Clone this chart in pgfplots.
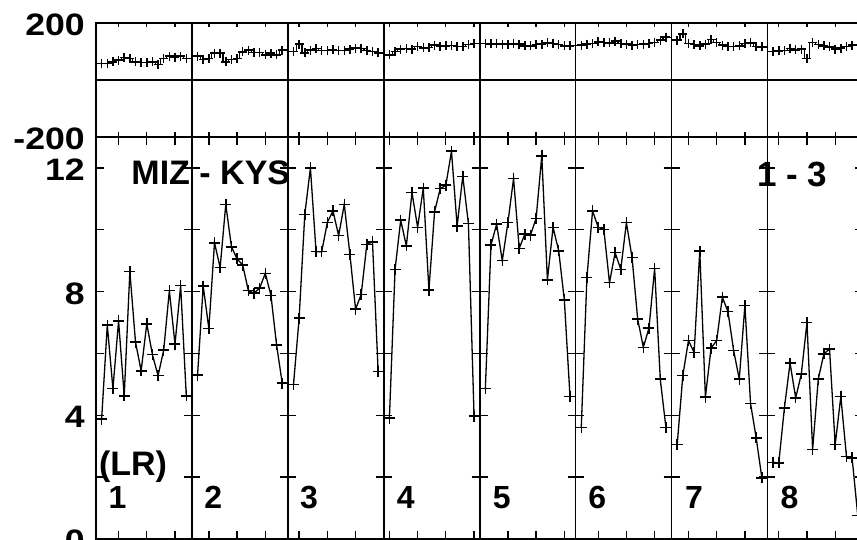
\documentclass[border=0pt]{standalone}
\usepackage{pgfplots}
\usepackage{pgfplotstable}
\pgfplotsset{compat=1.18}
\usepackage{fontspec}
\setmainfont{Liberation Sans}
\newfontfamily\tickfont[FakeStretch=1.15]{Liberation Sans}

% upper panel: one point per step, 17 steps per block (last one empty)
\pgfplotstableread{
x y
1 58
2 58
3 64
4 70
5 79
6 76
7 64
8 61
9 61
10 64
11 55
12 76
13 84
14 79
15 84
16 76
18 84
19 72
20 76
21 94
22 94
23 64
24 72
25 76
26 99
27 105
28 96
29 96
30 88
31 94
32 88
33 105
35 100
36 126
37 95
38 105
39 110
40 104
41 104
42 106
43 104
44 104
45 108
46 112
47 110
48 104
49 100
50 95
52 88
53 100
54 108
55 110
56 108
57 118
58 113
59 114
60 122
61 117
62 120
63 121
64 118
65 118
66 124
67 128
69 128
70 127
71 127
72 126
73 126
74 127
75 126
76 120
77 120
78 124
79 126
80 130
81 128
82 124
83 120
84 120
86 122
87 126
88 128
89 134
90 132
91 130
92 136
93 128
94 126
95 122
96 124
97 126
98 128
99 132
100 140
101 150
103 140
104 162
105 128
106 124
107 120
108 126
109 142
110 132
111 122
112 118
113 118
114 120
115 128
116 130
117 118
118 116
120 100
121 102
122 104
123 110
124 106
125 108
126 76
127 132
128 124
129 120
130 116
131 108
132 112
133 118
134 122
135 124
}\toptable

% lower panel, blocks 1-8 separated by nan
\pgfplotstableread{
x y
1 3.88
2 6.92
3 4.86
4 7.05
5 4.63
6 8.65
7 6.37
8 5.44
9 6.96
10 5.96
11 5.28
12 6.11
13 8.03
14 6.30
15 8.19
16 4.63
17 nan
18 5.30
19 8.18
20 6.81
21 9.58
22 8.78
23 10.82
24 9.45
25 9.06
26 8.86
27 8.03
28 7.95
29 8.11
30 8.59
31 7.88
32 6.28
33 5.04
34 nan
35 4.99
36 7.14
37 10.49
38 12.00
39 9.29
40 9.29
41 10.24
42 10.61
43 9.81
44 10.82
45 9.20
46 7.43
47 7.91
48 9.53
49 9.61
50 5.42
51 nan
52 3.91
53 8.72
54 10.31
55 9.48
56 11.20
57 10.08
58 11.35
59 8.05
60 10.58
61 11.33
62 11.44
63 12.54
64 10.12
65 11.73
66 10.20
67 3.97
68 nan
69 4.86
70 9.51
71 10.18
72 9.00
73 10.23
74 11.66
75 9.40
76 9.86
77 9.83
78 10.37
79 12.39
80 8.38
81 10.08
82 9.32
83 7.73
84 4.61
85 nan
86 3.61
87 8.45
88 10.61
89 10.08
90 10.01
91 8.29
92 9.26
93 8.72
94 10.23
95 9.10
96 7.11
97 6.20
98 6.82
99 8.75
100 5.17
101 3.61
102 nan
103 3.05
104 5.29
105 6.42
106 6.03
107 9.31
108 4.59
109 6.17
110 6.42
111 7.82
112 7.35
113 6.10
114 5.17
115 7.55
116 4.38
117 3.27
118 1.98
119 nan
120 2.48
121 2.46
122 4.24
123 5.69
124 4.56
125 5.34
126 7.00
127 2.89
128 5.17
129 5.99
130 6.14
131 3.05
132 4.61
133 2.66
134 2.62
135 0.76
}\bottable

\pgfplotsset{
  panel/.style={
    scale only axis, width=767.4pt,
    xmin=0, xmax=136,
    axis line style={line width=1.6pt},
    xtick={4,9,14,20,25,30,36,41,46,52,57,62,67,73,78,83,89,94,99,105,110,115,121,126,131},
    xticklabels={},
    tick align=inside,
    tick style={black, line width=1.3pt},
    extra x ticks={17,34,51,68,85,102,119},
    extra x tick labels={},
    extra x tick style={grid=major, major tick length=0pt,
      major grid style={black, line width=1.6pt}},
    yticklabel style={font=\tickfont\bfseries\fontsize{31}{31}\selectfont,
      inner sep=0pt, xshift=-11pt, yshift=-2pt},
  },
}

\begin{document}
\begin{tikzpicture}

\begin{axis}[panel,
  at={(96pt,403pt)}, anchor=south west, height=114pt,
  ymin=-200, ymax=200,
  ytick={-200,200}, yticklabels={-200,200},
  major tick length=4.5pt,
  extra y ticks={0}, extra y tick labels={},
  extra y tick style={grid=major, major tick length=0pt,
    major grid style={black, line width=1.6pt}},
]
\addplot[black, line width=1.2pt, const plot mark mid, mark=+, mark size=4.5pt,
  mark options={line width=1.5pt}]
  table[x=x, y=y] {\toptable};
\end{axis}

\begin{axis}[panel,
  at={(96pt,1pt)}, anchor=south west, height=402pt,
  ymin=0, ymax=13,
  ytick={0,2,...,12}, yticklabels={0,,4,,8,,12},
  major tick length=8pt,
  unbounded coords=jump,
]
\addplot[black, line width=1.3pt, mark=+, mark size=5.5pt,
  mark options={line width=1.5pt}]
  table[x=x, y=y] {\bottable};
\end{axis}

% ticks across the block separators in the lower panel
\foreach \s in {17,34,...,119} {
  \foreach \v in {2,4,...,12} {
    \draw[line width=1.3pt] ({96pt+5.6426pt*\s-8pt},{1pt+30.923pt*\v}) -- ++(16pt,0pt);
  }
}

\begin{scope}[font=\bfseries\fontsize{34}{34}\selectfont]
\node at (210.8pt,367.2pt) {MIZ - KYS};
\node[font=\bfseries\fontsize{35}{35}\selectfont] at (792.3pt,366pt) {1 - 3};
\node at (133pt,73.7pt) {(LR)};
\node[font=\bfseries\fontsize{32}{32}\selectfont] at (117.5pt,42.5pt) {1};
\node[font=\bfseries\fontsize{32}{32}\selectfont] at (213.3pt,42.5pt) {2};
\node[font=\bfseries\fontsize{32}{32}\selectfont] at (309pt,42.5pt) {3};
\node[font=\bfseries\fontsize{32}{32}\selectfont] at (405.8pt,42.5pt) {4};
\node[font=\bfseries\fontsize{32}{32}\selectfont] at (501.8pt,42.5pt) {5};
\node[font=\bfseries\fontsize{32}{32}\selectfont] at (597.3pt,42.5pt) {6};
\node[font=\bfseries\fontsize{32}{32}\selectfont] at (694pt,42.5pt) {7};
\node[font=\bfseries\fontsize{32}{32}\selectfont] at (789.5pt,42.5pt) {8};
\end{scope}

\pgfresetboundingbox
\path[use as bounding box] (0pt,0pt) rectangle (857pt,540pt);
\end{tikzpicture}
\end{document}
